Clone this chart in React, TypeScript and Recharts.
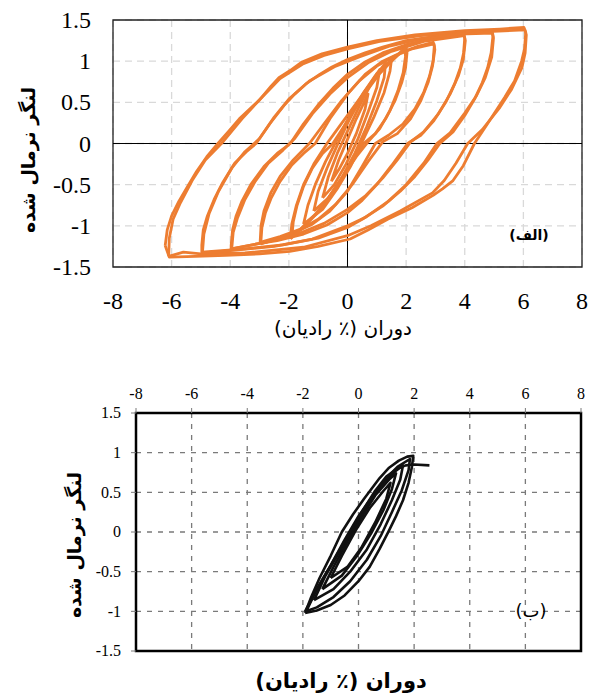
import { LineChart, Line, XAxis, YAxis, CartesianGrid, ReferenceLine, ReferenceArea } from 'recharts';

type Pt = { x: number; y: number };
const pts = (a: number[][]): Pt[] => a.map(([x, y]) => ({ x, y }));

const xTicks = [-8, -6, -4, -2, 0, 2, 4, 6, 8];
const yTicks = [-1.5, -1, -0.5, 0, 0.5, 1, 1.5];

const xTitle = 'دوران (٪ رادیان)';
const yTitle = 'لنگر نرمال شده';

// (الف) - orange loops, rotation % vs normalised moment
const loop6a = pts([
  [-6.22, -1.24], [-6.15, -1.05], [-6.0, -0.88], [-5.75, -0.7], [-5.45, -0.52], [-5.15, -0.34], [-4.8, -0.16],
  [-4.42, 0], [-4.05, 0.15], [-3.69, 0.3], [-3.0, 0.53], [-2.6, 0.7], [-2.34, 0.8], [-1.9, 0.9], [-1.55, 0.99],
  [-0.87, 1.09], [0, 1.17], [1, 1.25], [2.3, 1.32], [4, 1.37], [5.2, 1.39], [6.02, 1.41],
  [6.08, 1.35], [6.04, 1.15], [5.94, 1.0], [5.7, 0.76], [5.36, 0.56], [5.0, 0.36], [4.72, 0.21], [4.33, 0],
  [3.95, -0.27], [3.6, -0.45], [3.24, -0.55], [2.92, -0.63], [2.2, -0.78], [1.37, -0.92], [0.7, -1.05],
  [0.09, -1.16], [-1.0, -1.25], [-1.97, -1.31], [-3, -1.34], [-4.15, -1.36], [-5.2, -1.37], [-6.08, -1.38], [-6.22, -1.24],
]);
const loop6b = pts([
  [-6.1, -1.37], [-6.08, -1.15], [-5.95, -0.92], [-5.7, -0.72], [-5.3, -0.45], [-4.85, -0.2], [-4.3, 0],
  [-3.6, 0.3], [-2.95, 0.55], [-2.3, 0.79], [-1.5, 0.97], [-0.8, 1.07], [0, 1.15], [1.1, 1.24], [2.5, 1.31],
  [4.2, 1.35], [6.05, 1.38],
  [6.1, 1.32], [6.06, 1.1], [5.95, 0.92], [5.6, 0.66], [5.2, 0.44], [4.6, 0.17], [4.1, 0], [3.7, -0.24],
  [3.3, -0.45], [2.9, -0.6], [1.8, -0.82], [0.8, -1.0], [0, -1.12], [-1.5, -1.26], [-3.5, -1.33], [-5.0, -1.34],
  [-5.6, -1.32], [-6.1, -1.37],
]);
const loop5a = pts([
  [-4.97, -1.23], [-4.92, -1.05], [-4.78, -0.88], [-4.55, -0.68], [-4.25, -0.47], [-3.85, -0.24], [-3.45, -0.1],
  [-3.12, 0], [-2.65, 0.24], [-2.17, 0.46], [-1.8, 0.6], [-1.43, 0.72], [-0.95, 0.84], [-0.53, 0.93], [0, 1.02],
  [0.6, 1.1], [1.2, 1.17], [2.0, 1.25], [3.0, 1.3], [4.0, 1.34], [4.93, 1.36],
  [4.96, 1.3], [4.9, 1.1], [4.78, 0.92], [4.6, 0.74], [4.35, 0.55], [4.0, 0.34], [3.6, 0.14], [3.15, 0],
  [2.75, -0.2], [2.3, -0.4], [1.8, -0.58], [1.2, -0.76], [0.5, -0.92], [0, -1.02], [-1.0, -1.15], [-2.2, -1.23],
  [-3.5, -1.28], [-4.97, -1.32], [-4.97, -1.23],
]);
const loop5b = pts([
  [-4.95, -1.33], [-4.9, -1.1], [-4.72, -0.85], [-4.4, -0.58], [-3.95, -0.3], [-3.5, -0.1], [-3.0, 0.06],
  [-2.5, 0.32], [-2.0, 0.54], [-1.3, 0.76], [-0.4, 0.94], [0.4, 1.05], [1.4, 1.18], [2.5, 1.27], [3.8, 1.33], [4.95, 1.34],
  [4.98, 1.28], [4.92, 1.05], [4.7, 0.8], [4.4, 0.58], [4.0, 0.37], [3.5, 0.13], [3.05, 0], [2.6, -0.24],
  [2.0, -0.5], [1.4, -0.7], [0.6, -0.9], [0, -1.0], [-1.2, -1.16], [-2.5, -1.25], [-4.0, -1.3], [-4.95, -1.33],
]);
const loop4a = pts([
  [-3.97, -1.24], [-3.92, -1.05], [-3.8, -0.88], [-3.6, -0.7], [-3.3, -0.5], [-2.85, -0.28], [-2.4, -0.12],
  [-1.95, 0], [-1.5, 0.24], [-1.0, 0.47], [-0.5, 0.67], [0, 0.84], [0.6, 0.99], [1.2, 1.1], [2.0, 1.2],
  [2.8, 1.27], [3.5, 1.31], [3.96, 1.33],
  [4.0, 1.28], [3.96, 1.1], [3.85, 0.92], [3.65, 0.72], [3.35, 0.5], [2.95, 0.28], [2.5, 0.1], [2.05, 0],
  [1.5, -0.27], [1.0, -0.5], [0.5, -0.69], [0, -0.84], [-0.7, -0.99], [-1.5, -1.1], [-2.4, -1.18],
  [-3.1, -1.22], [-3.97, -1.28], [-3.97, -1.24],
]);
const loop4b = pts([
  [-3.95, -1.28], [-3.9, -1.08], [-3.75, -0.9], [-3.5, -0.68], [-3.15, -0.46], [-2.7, -0.24], [-2.2, -0.08],
  [-1.8, 0.06], [-1.2, 0.36], [-0.6, 0.6], [0, 0.8], [0.7, 0.98], [1.5, 1.12], [2.6, 1.24], [3.98, 1.31],
  [4.02, 1.25], [3.95, 1.02], [3.78, 0.82], [3.5, 0.6], [3.1, 0.36], [2.6, 0.14], [2.15, 0.02], [1.7, -0.2],
  [1.2, -0.42], [0.6, -0.64], [0, -0.8], [-0.8, -0.97], [-1.7, -1.1], [-2.8, -1.2], [-3.95, -1.28],
]);
const loop3a = pts([
  [-2.96, -1.22], [-2.92, -1.02], [-2.8, -0.84], [-2.6, -0.66], [-2.3, -0.46], [-1.9, -0.26], [-1.5, -0.12],
  [-1.1, 0], [-0.6, 0.3], [0, 0.6], [0.6, 0.84], [1.2, 1.0], [1.8, 1.1], [2.4, 1.18], [2.92, 1.23],
  [2.96, 1.18], [2.92, 1.0], [2.8, 0.82], [2.6, 0.62], [2.3, 0.42], [1.9, 0.24], [1.4, 0.1], [0.95, 0],
  [0.5, -0.28], [0, -0.58], [-0.6, -0.82], [-1.2, -0.98], [-1.8, -1.08], [-2.4, -1.16], [-2.96, -1.22],
]);
const loop3b = pts([
  [-2.98, -1.2], [-2.95, -1.0], [-2.85, -0.82], [-2.62, -0.6], [-2.3, -0.4], [-1.85, -0.2], [-1.3, 0],
  [-0.8, 0.24], [-0.2, 0.52], [0.4, 0.76], [1.0, 0.94], [1.6, 1.06], [2.2, 1.15], [2.95, 1.21],
  [2.98, 1.14], [2.9, 0.94], [2.75, 0.74], [2.5, 0.52], [2.15, 0.3], [1.7, 0.12], [1.2, 0.02], [0.7, -0.22],
  [0.2, -0.48], [-0.4, -0.74], [-1.0, -0.92], [-1.6, -1.04], [-2.3, -1.13], [-2.98, -1.2],
]);
const loop2a = pts([
  [-1.9, -1.14], [-1.85, -0.95], [-1.72, -0.75], [-1.5, -0.52], [-1.2, -0.3], [-0.85, -0.12], [-0.5, 0],
  [-0.1, 0.22], [0.3, 0.45], [0.7, 0.66], [1.1, 0.85], [1.5, 1.0], [1.8, 1.1], [2.0, 1.18],
  [2.03, 1.1], [1.98, 0.92], [1.85, 0.74], [1.62, 0.52], [1.3, 0.3], [0.95, 0.12], [0.55, 0], [0.15, -0.22],
  [-0.25, -0.45], [-0.65, -0.66], [-1.05, -0.85], [-1.45, -1.0], [-1.9, -1.14],
]);
const loop2b = pts([
  [-1.95, -1.16], [-1.9, -0.98], [-1.75, -0.76], [-1.5, -0.5], [-1.15, -0.25], [-0.7, 0], [-0.25, 0.22],
  [0.2, 0.44], [0.65, 0.66], [1.1, 0.86], [1.55, 1.02], [1.95, 1.16],
  [1.98, 1.06], [1.9, 0.86], [1.72, 0.64], [1.45, 0.4], [1.1, 0.18], [0.7, 0.02], [0.3, -0.16], [-0.15, -0.4],
  [-0.6, -0.64], [-1.1, -0.86], [-1.55, -1.02], [-1.95, -1.16],
]);
const inner1 = pts([
  [-1.5, -0.98], [-1.35, -0.75], [-1.1, -0.5], [-0.75, -0.22], [-0.35, 0.05], [0.1, 0.35], [0.55, 0.62], [1.0, 0.85], [1.5, 1.02],
  [1.45, 0.88], [1.25, 0.62], [0.9, 0.32], [0.5, 0.02], [0.1, -0.28], [-0.35, -0.55], [-0.85, -0.8], [-1.5, -0.98],
]);
const inner2 = pts([
  [-1.15, -0.82], [-1.0, -0.58], [-0.7, -0.3], [-0.35, -0.02], [0.05, 0.28], [0.5, 0.58], [0.95, 0.82], [1.3, 0.98],
  [1.25, 0.8], [1.0, 0.52], [0.65, 0.2], [0.25, -0.12], [-0.2, -0.42], [-0.65, -0.66], [-1.15, -0.82],
]);
const inner3 = pts([
  [-0.85, -0.66], [-0.65, -0.4], [-0.35, -0.12], [0, 0.15], [0.4, 0.45], [0.8, 0.72], [1.1, 0.9],
  [1.0, 0.68], [0.7, 0.38], [0.35, 0.05], [-0.05, -0.25], [-0.45, -0.5], [-0.85, -0.66],
]);
const inner4 = pts([
  [-0.55, -0.46], [-0.3, -0.2], [0, 0.05], [0.3, 0.3], [0.7, 0.6],
  [0.6, 0.42], [0.3, 0.12], [0, -0.12], [-0.3, -0.32], [-0.55, -0.46],
]);

// (ب) - black loops
const bLoop1 = pts([
  [-1.92, -1.02], [-1.7, -0.82], [-1.4, -0.58], [-1.0, -0.3], [-0.6, 0], [-0.2, 0.22], [0.2, 0.42], [0.76, 0.68],
  [1.1, 0.81], [1.45, 0.9], [1.75, 0.95], [1.97, 0.96],
  [1.92, 0.82], [1.8, 0.62], [1.6, 0.4], [1.35, 0.2], [1.1, 0.02], [0.75, -0.22], [0.4, -0.44], [0, -0.62],
  [-0.5, -0.8], [-1.0, -0.92], [-1.5, -0.99], [-1.92, -1.02],
]);
const bLoop2 = pts([
  [-1.88, -1.0], [-1.5, -0.72], [-1.0, -0.42], [-0.5, -0.1], [0, 0.2], [0.5, 0.45], [1.0, 0.68], [1.4, 0.82], [1.85, 0.92],
  [1.8, 0.78], [1.55, 0.52], [1.2, 0.25], [0.8, -0.05], [0.3, -0.35], [-0.3, -0.62], [-0.9, -0.82], [-1.5, -0.95], [-1.88, -1.0],
]);
const bLoop3 = pts([
  [-1.6, -0.86], [-1.2, -0.56], [-0.7, -0.26], [-0.2, 0.04], [0.3, 0.32], [0.8, 0.58], [1.3, 0.76], [1.6, 0.84],
  [1.5, 0.66], [1.2, 0.4], [0.8, 0.1], [0.3, -0.22], [-0.3, -0.5], [-0.9, -0.72], [-1.6, -0.86],
]);
const bLoop4 = pts([
  [-1.3, -0.72], [-0.9, -0.44], [-0.4, -0.12], [0.1, 0.18], [0.6, 0.46], [1.1, 0.66], [1.35, 0.74],
  [1.2, 0.54], [0.9, 0.28], [0.45, -0.02], [-0.05, -0.3], [-0.6, -0.55], [-1.3, -0.72],
]);
const bLoop5 = pts([
  [-1.0, -0.58], [-0.6, -0.3], [-0.1, 0.02], [0.4, 0.3], [0.9, 0.52], [1.15, 0.62],
  [1.0, 0.42], [0.6, 0.12], [0.1, -0.2], [-0.4, -0.44], [-1.0, -0.58],
]);
const bTail = pts([
  [-1.92, -1.0], [-1.4, -0.66], [-0.9, -0.36], [-0.4, -0.06], [0.1, 0.24], [0.6, 0.52], [1.0, 0.7], [1.4, 0.8],
  [1.7, 0.84], [2.0, 0.85], [2.55, 0.84],
]);

const topLoops = [loop6a, loop6b, loop5a, loop5b, loop4a, loop4b, loop3a, loop3b, loop2a, loop2b, inner1, inner2, inner3, inner4];
const bottomLoops = [bLoop1, bLoop2, bLoop3, bLoop4, bLoop5, bTail];

const serif = "'Liberation Serif', 'Times New Roman', 'DejaVu Serif', serif";
const persian = "'DejaVu Sans', sans-serif";

// tick renderers so the serif face and size are set on the <text> itself
const tickX = (size: number, dy: string) => (p: any) => (
  <text x={p.x} y={p.y} dy={dy} textAnchor="middle" fill="#000" fontSize={size} fontFamily={serif}>
    {p.payload.value}
  </text>
);
const tickY = (size: number) => (p: any) => (
  <text x={p.x} y={p.y} dy="0.34em" textAnchor="end" fill="#000" fontSize={size} fontFamily={serif}>
    {p.payload.value}
  </text>
);

function Txt({ x, y, size, bold, rotate, children }: any) {
  return (
    <div style={{
      position: 'absolute', left: x - 150, top: y - 20, width: 300, height: 40, lineHeight: '40px',
      textAlign: 'center', whiteSpace: 'nowrap', direction: 'rtl',
      fontFamily: persian, fontSize: size, fontWeight: bold ? 'bold' : 'normal', color: '#000',
      transform: rotate ? 'rotate(-90deg)' : undefined,
    }}>{children}</div>
  );
}

export default function App() {
  return (
    <div style={{ position: 'fixed', left: 0, top: 0, width: 592, height: 696, background: '#fff', overflow: 'hidden' }}>
      <div style={{ position: 'absolute', left: 0, top: 0 }}>
        <LineChart width={592} height={340} margin={{ top: 20, right: 10, left: 0, bottom: 0 }}>
          <CartesianGrid stroke="#d9d9d9" strokeDasharray="7 5" strokeWidth={1.3} />
          <XAxis type="number" dataKey="x" domain={[-8, 8]} ticks={xTicks} height={73} allowDataOverflow
            axisLine={false} tickLine={false} tickSize={0} tickMargin={25} tick={tickX(24, '0.71em')} />
          <YAxis type="number" domain={[-1.5, 1.5]} ticks={yTicks} width={113} allowDataOverflow
            axisLine={false} tickLine={false} tickSize={0} tickMargin={22} tick={tickY(24)} />
          <ReferenceLine x={0} stroke="#000" strokeWidth={1} />
          <ReferenceLine y={0} stroke="#000" strokeWidth={1} />
          {topLoops.map((d, i) => (
            <Line key={i} data={d} dataKey="y" type="linear" stroke="#ED7D31" strokeWidth={2.8}
              dot={false} activeDot={false} isAnimationActive={false} strokeLinejoin="round" />
          ))}
          <ReferenceArea x1={-8} x2={8} y1={-1.5} y2={1.5} fill="none" fillOpacity={0} stroke="#222" strokeWidth={1.3} />
        </LineChart>
      </div>

      <div style={{ position: 'absolute', left: 0, top: 360 }}>
        <LineChart width={592} height={336} margin={{ top: 0, right: 11, left: 0, bottom: 45 }}>
          <CartesianGrid stroke="#7a7a7a" strokeDasharray="5 6" strokeWidth={1.3} />
          <XAxis type="number" dataKey="x" domain={[-8, 8]} ticks={xTicks} orientation="top" height={53} allowDataOverflow
            axisLine={false} tickLine={{ stroke: '#7a7a7a' }} tickSize={5} tickMargin={9} tick={tickX(16, '0')} />
          <YAxis type="number" domain={[-1.5, 1.5]} ticks={yTicks} width={136} allowDataOverflow
            axisLine={false} tickLine={{ stroke: '#7a7a7a' }} tickSize={5} tickMargin={10} tick={tickY(16)} />
          {bottomLoops.map((d, i) => (
            <Line key={i} data={d} dataKey="y" type="linear" stroke="#111" strokeWidth={2.6}
              dot={false} activeDot={false} isAnimationActive={false} strokeLinejoin="round" />
          ))}
          <ReferenceArea x1={-8} x2={8} y1={-1.5} y2={1.5} fill="none" fillOpacity={0} stroke="#000" strokeWidth={2.5} />
        </LineChart>
      </div>

      <Txt x={343} y={328} size={20}>{xTitle}</Txt>
      <Txt x={28} y={160} size={19} bold rotate>{yTitle}</Txt>
      <Txt x={529} y={235} size={14} bold>(الف)</Txt>

      <Txt x={341} y={681} size={21} bold>{xTitle}</Txt>
      <Txt x={74} y={545} size={19} bold rotate>{yTitle}</Txt>
      <Txt x={531} y={611} size={18}>(ب)</Txt>
    </div>
  );
}
